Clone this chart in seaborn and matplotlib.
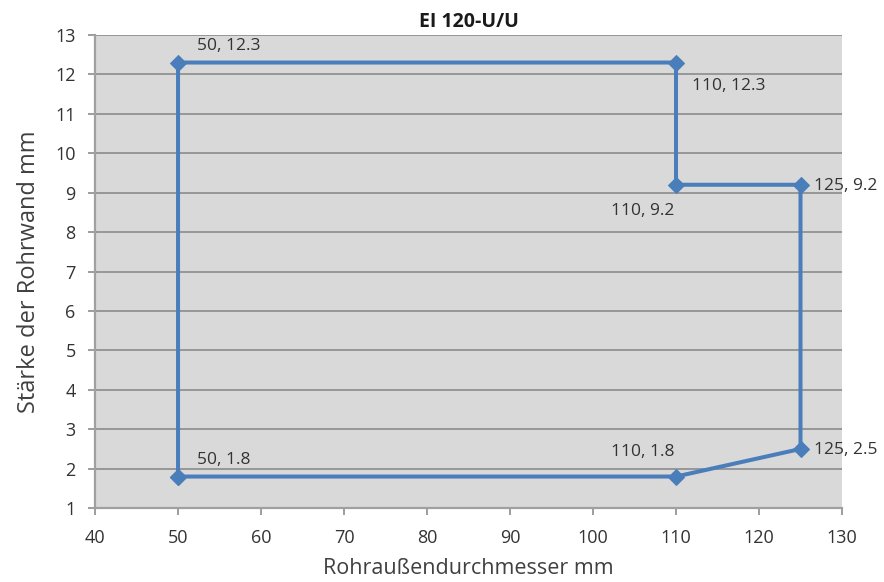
import matplotlib
matplotlib.use("Agg")
import matplotlib.pyplot as plt
import seaborn as sns
import pandas as pd

# Outline of the permitted pipe range (outer diameter vs. wall thickness)
diameter_mm = [50, 50, 110, 110, 125, 125, 110, 50]
wall_mm = [1.8, 12.3, 12.3, 9.2, 9.2, 2.5, 1.8, 1.8]

# Data labels: (x, y, text offset in points, horizontal alignment)
label_points = [
    (50, 12.3, (14, 12), "left"),
    (110, 12.3, (11.5, -17), "left"),
    (110, 9.2, (-1, -19), "right"),
    (125, 9.2, (10, -1), "left"),
    (125, 2.5, (10, -1), "left"),
    (110, 1.8, (-1, 18), "right"),
    (50, 1.8, (14, 12), "left"),
]

x_ticks = list(range(40, 131, 10))
y_ticks = list(range(1, 14))

df = pd.DataFrame({"d": diameter_mm, "s": wall_mm})

sns.set_theme(style="white")
plt.rcParams["font.family"] = ["Open Sans", "DejaVu Sans"]

fig = plt.figure(figsize=(8.84, 5.82), dpi=100)
ax = fig.add_axes([0.1075, 0.127, 0.845, 0.813])
ax.set_facecolor("#d9d9d9")

line_color = "#4a7ebb"
sns.lineplot(data=df, x="d", y="s", sort=False, estimator=None, ax=ax,
             color=line_color, linewidth=2.9, marker="D", markersize=8,
             markeredgecolor=line_color, markerfacecolor=line_color)

for x, y, off, ha in label_points:
    txt = f"{x}, {y:g}"
    ax.annotate(txt, (x, y), xytext=off, textcoords="offset points",
                ha=ha, va="center", fontsize=12.5, color="#333333")

ax.set_xlim(40, 130)
ax.set_ylim(1, 13)
ax.set_xticks(x_ticks)
ax.set_yticks(y_ticks)
ax.yaxis.grid(True, color="#8c8c8c", linewidth=1.2)
ax.xaxis.grid(False)
ax.set_axisbelow(True)

for side in ["top", "right"]:
    ax.spines[side].set_visible(False)
for side in ["left", "bottom"]:
    ax.spines[side].set_color("#a0a0a0")
    ax.spines[side].set_linewidth(1.6)

ax.tick_params(axis="both", which="major", length=5, width=1.2,
               color="#8c8c8c", labelsize=13, labelcolor="#333333",
               direction="out", left=True, bottom=True)
ax.tick_params(axis="x", pad=10)
ax.tick_params(axis="y", pad=9)

ax.set_xlabel("Rohraußendurchmesser mm", fontsize=15.5, color="#404040", labelpad=8)
ax.set_ylabel("Stärke der Rohrwand mm", fontsize=17, color="#404040", labelpad=10)
ax.set_title("EI 120-U/U", fontsize=14, fontweight="bold", color="#1a1a1a", pad=6)

fig.savefig("out.png", dpi=100, facecolor="white")
